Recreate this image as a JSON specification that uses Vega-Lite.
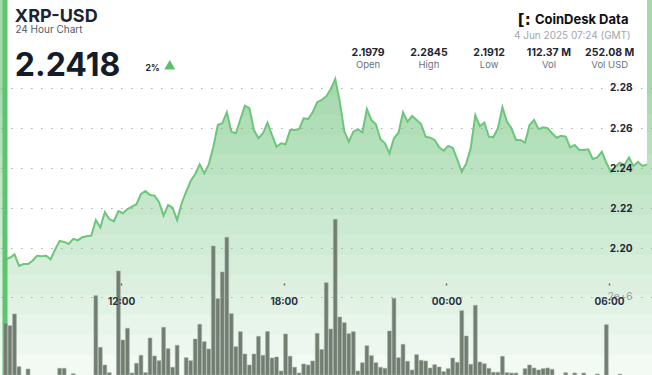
{
  "$schema": "https://vega.github.io/schema/vega-lite/v6.json",
  "width": 652,
  "height": 375,
  "autosize": {"type": "none"},
  "padding": 0,
  "background": "white",
  "config": {"view": {"stroke": null}, "font": "Inter"},
  "datasets": {
    "one": [{}],
    "price": [
      {"t": "2025-06-03T07:44:00Z", "p": 2.1945}, {"t": "2025-06-03T07:54:00Z", "p": 2.1953},
      {"t": "2025-06-03T08:04:00Z", "p": 2.1970}, {"t": "2025-06-03T08:14:00Z", "p": 2.1912},
      {"t": "2025-06-03T08:24:00Z", "p": 2.1922}, {"t": "2025-06-03T08:34:00Z", "p": 2.1922},
      {"t": "2025-06-03T08:44:00Z", "p": 2.1938}, {"t": "2025-06-03T08:54:00Z", "p": 2.1963},
      {"t": "2025-06-03T09:04:00Z", "p": 2.1960}, {"t": "2025-06-03T09:14:00Z", "p": 2.1963},
      {"t": "2025-06-03T09:24:00Z", "p": 2.1945}, {"t": "2025-06-03T09:34:00Z", "p": 2.1995},
      {"t": "2025-06-03T09:44:00Z", "p": 2.2037}, {"t": "2025-06-03T09:54:00Z", "p": 2.2032},
      {"t": "2025-06-03T10:04:00Z", "p": 2.2022}, {"t": "2025-06-03T10:14:00Z", "p": 2.2047},
      {"t": "2025-06-03T10:24:00Z", "p": 2.2040}, {"t": "2025-06-03T10:34:00Z", "p": 2.2055},
      {"t": "2025-06-03T10:44:00Z", "p": 2.2060}, {"t": "2025-06-03T10:54:00Z", "p": 2.2064},
      {"t": "2025-06-03T11:04:00Z", "p": 2.2141}, {"t": "2025-06-03T11:14:00Z", "p": 2.2104},
      {"t": "2025-06-03T11:24:00Z", "p": 2.2181}, {"t": "2025-06-03T11:34:00Z", "p": 2.2146},
      {"t": "2025-06-03T11:44:00Z", "p": 2.2135}, {"t": "2025-06-03T11:54:00Z", "p": 2.2186},
      {"t": "2025-06-03T12:04:00Z", "p": 2.2175}, {"t": "2025-06-03T12:14:00Z", "p": 2.2196},
      {"t": "2025-06-03T12:24:00Z", "p": 2.2208}, {"t": "2025-06-03T12:34:00Z", "p": 2.2220},
      {"t": "2025-06-03T12:44:00Z", "p": 2.2271}, {"t": "2025-06-03T12:54:00Z", "p": 2.2286},
      {"t": "2025-06-03T13:04:00Z", "p": 2.2266}, {"t": "2025-06-03T13:14:00Z", "p": 2.2263},
      {"t": "2025-06-03T13:24:00Z", "p": 2.2230}, {"t": "2025-06-03T13:34:00Z", "p": 2.2163},
      {"t": "2025-06-03T13:44:00Z", "p": 2.2216}, {"t": "2025-06-03T13:54:00Z", "p": 2.2203},
      {"t": "2025-06-03T14:04:00Z", "p": 2.2141}, {"t": "2025-06-03T14:14:00Z", "p": 2.2225},
      {"t": "2025-06-03T14:24:00Z", "p": 2.2283}, {"t": "2025-06-03T14:34:00Z", "p": 2.2336},
      {"t": "2025-06-03T14:44:00Z", "p": 2.2371}, {"t": "2025-06-03T14:54:00Z", "p": 2.2419},
      {"t": "2025-06-03T15:04:00Z", "p": 2.2374}, {"t": "2025-06-03T15:14:00Z", "p": 2.2419},
      {"t": "2025-06-03T15:24:00Z", "p": 2.2504}, {"t": "2025-06-03T15:34:00Z", "p": 2.2615},
      {"t": "2025-06-03T15:44:00Z", "p": 2.2624}, {"t": "2025-06-03T15:54:00Z", "p": 2.2679},
      {"t": "2025-06-03T16:04:00Z", "p": 2.2582}, {"t": "2025-06-03T16:14:00Z", "p": 2.2574},
      {"t": "2025-06-03T16:24:00Z", "p": 2.2644}, {"t": "2025-06-03T16:34:00Z", "p": 2.2712},
      {"t": "2025-06-03T16:44:00Z", "p": 2.2699}, {"t": "2025-06-03T16:54:00Z", "p": 2.2590},
      {"t": "2025-06-03T17:04:00Z", "p": 2.2549}, {"t": "2025-06-03T17:14:00Z", "p": 2.2574},
      {"t": "2025-06-03T17:24:00Z", "p": 2.2627}, {"t": "2025-06-03T17:34:00Z", "p": 2.2565},
      {"t": "2025-06-03T17:44:00Z", "p": 2.2507}, {"t": "2025-06-03T17:54:00Z", "p": 2.2524},
      {"t": "2025-06-03T18:04:00Z", "p": 2.2519}, {"t": "2025-06-03T18:14:00Z", "p": 2.2590},
      {"t": "2025-06-03T18:24:00Z", "p": 2.2590}, {"t": "2025-06-03T18:34:00Z", "p": 2.2595},
      {"t": "2025-06-03T18:44:00Z", "p": 2.2649}, {"t": "2025-06-03T18:54:00Z", "p": 2.2645},
      {"t": "2025-06-03T19:04:00Z", "p": 2.2679}, {"t": "2025-06-03T19:14:00Z", "p": 2.2729},
      {"t": "2025-06-03T19:24:00Z", "p": 2.2740}, {"t": "2025-06-03T19:34:00Z", "p": 2.2758},
      {"t": "2025-06-03T19:44:00Z", "p": 2.2795}, {"t": "2025-06-03T19:54:00Z", "p": 2.2845},
      {"t": "2025-06-03T20:04:00Z", "p": 2.2732}, {"t": "2025-06-03T20:14:00Z", "p": 2.2585},
      {"t": "2025-06-03T20:24:00Z", "p": 2.2532}, {"t": "2025-06-03T20:34:00Z", "p": 2.2582},
      {"t": "2025-06-03T20:44:00Z", "p": 2.2595}, {"t": "2025-06-03T20:54:00Z", "p": 2.2579},
      {"t": "2025-06-03T21:04:00Z", "p": 2.2695}, {"t": "2025-06-03T21:14:00Z", "p": 2.2640},
      {"t": "2025-06-03T21:24:00Z", "p": 2.2619}, {"t": "2025-06-03T21:34:00Z", "p": 2.2544},
      {"t": "2025-06-03T21:44:00Z", "p": 2.2524}, {"t": "2025-06-03T21:54:00Z", "p": 2.2474},
      {"t": "2025-06-03T22:04:00Z", "p": 2.2549}, {"t": "2025-06-03T22:14:00Z", "p": 2.2577},
      {"t": "2025-06-03T22:24:00Z", "p": 2.2679}, {"t": "2025-06-03T22:34:00Z", "p": 2.2632},
      {"t": "2025-06-03T22:44:00Z", "p": 2.2660}, {"t": "2025-06-03T22:54:00Z", "p": 2.2640},
      {"t": "2025-06-03T23:04:00Z", "p": 2.2620}, {"t": "2025-06-03T23:14:00Z", "p": 2.2557},
      {"t": "2025-06-03T23:24:00Z", "p": 2.2552}, {"t": "2025-06-03T23:34:00Z", "p": 2.2541},
      {"t": "2025-06-03T23:44:00Z", "p": 2.2504}, {"t": "2025-06-03T23:54:00Z", "p": 2.2487},
      {"t": "2025-06-04T00:04:00Z", "p": 2.2511}, {"t": "2025-06-04T00:14:00Z", "p": 2.2502},
      {"t": "2025-06-04T00:24:00Z", "p": 2.2444}, {"t": "2025-06-04T00:34:00Z", "p": 2.2382},
      {"t": "2025-06-04T00:44:00Z", "p": 2.2424}, {"t": "2025-06-04T00:54:00Z", "p": 2.2502},
      {"t": "2025-06-04T01:04:00Z", "p": 2.2665}, {"t": "2025-06-04T01:14:00Z", "p": 2.2610},
      {"t": "2025-06-04T01:24:00Z", "p": 2.2627}, {"t": "2025-06-04T01:34:00Z", "p": 2.2557},
      {"t": "2025-06-04T01:44:00Z", "p": 2.2554}, {"t": "2025-06-04T01:54:00Z", "p": 2.2599},
      {"t": "2025-06-04T02:04:00Z", "p": 2.2704}, {"t": "2025-06-04T02:14:00Z", "p": 2.2632},
      {"t": "2025-06-04T02:24:00Z", "p": 2.2599}, {"t": "2025-06-04T02:34:00Z", "p": 2.2541},
      {"t": "2025-06-04T02:44:00Z", "p": 2.2541}, {"t": "2025-06-04T02:54:00Z", "p": 2.2527},
      {"t": "2025-06-04T03:04:00Z", "p": 2.2615}, {"t": "2025-06-04T03:14:00Z", "p": 2.2640},
      {"t": "2025-06-04T03:24:00Z", "p": 2.2595}, {"t": "2025-06-04T03:34:00Z", "p": 2.2604},
      {"t": "2025-06-04T03:44:00Z", "p": 2.2599}, {"t": "2025-06-04T03:54:00Z", "p": 2.2574},
      {"t": "2025-06-04T04:04:00Z", "p": 2.2552}, {"t": "2025-06-04T04:14:00Z", "p": 2.2562},
      {"t": "2025-06-04T04:24:00Z", "p": 2.2557}, {"t": "2025-06-04T04:34:00Z", "p": 2.2504},
      {"t": "2025-06-04T04:44:00Z", "p": 2.2516}, {"t": "2025-06-04T04:54:00Z", "p": 2.2491},
      {"t": "2025-06-04T05:04:00Z", "p": 2.2491}, {"t": "2025-06-04T05:14:00Z", "p": 2.2494},
      {"t": "2025-06-04T05:24:00Z", "p": 2.2446}, {"t": "2025-06-04T05:34:00Z", "p": 2.2454},
      {"t": "2025-06-04T05:44:00Z", "p": 2.2482}, {"t": "2025-06-04T05:54:00Z", "p": 2.2427},
      {"t": "2025-06-04T06:04:00Z", "p": 2.2382}, {"t": "2025-06-04T06:14:00Z", "p": 2.2407},
      {"t": "2025-06-04T06:24:00Z", "p": 2.2427}, {"t": "2025-06-04T06:34:00Z", "p": 2.2416},
      {"t": "2025-06-04T06:44:00Z", "p": 2.2453}, {"t": "2025-06-04T06:54:00Z", "p": 2.2411},
      {"t": "2025-06-04T07:04:00Z", "p": 2.2432}, {"t": "2025-06-04T07:14:00Z", "p": 2.2411},
      {"t": "2025-06-04T07:24:00Z", "p": 2.2418}
    ],
    "volume": [
      {"t": "2025-06-03T07:44:00Z", "v": 1321000}, {"t": "2025-06-03T07:54:00Z", "v": 1259000},
      {"t": "2025-06-03T08:04:00Z", "v": 1558000}, {"t": "2025-06-03T08:14:00Z", "v": 212000},
      {"t": "2025-06-03T08:34:00Z", "v": 153000}, {"t": "2025-06-03T09:44:00Z", "v": 171000},
      {"t": "2025-06-03T09:54:00Z", "v": 171000}, {"t": "2025-06-03T10:14:00Z", "v": 33000},
      {"t": "2025-06-03T11:04:00Z", "v": 2026000}, {"t": "2025-06-03T11:14:00Z", "v": 708000},
      {"t": "2025-06-03T11:24:00Z", "v": 255000}, {"t": "2025-06-03T11:34:00Z", "v": 59000},
      {"t": "2025-06-03T11:54:00Z", "v": 2657000}, {"t": "2025-06-03T12:04:00Z", "v": 894000},
      {"t": "2025-06-03T12:14:00Z", "v": 1193000}, {"t": "2025-06-03T12:24:00Z", "v": 51000},
      {"t": "2025-06-03T12:34:00Z", "v": 299000}, {"t": "2025-06-03T12:44:00Z", "v": 503000},
      {"t": "2025-06-03T12:54:00Z", "v": 59000}, {"t": "2025-06-03T13:04:00Z", "v": 945000},
      {"t": "2025-06-03T13:14:00Z", "v": 485000}, {"t": "2025-06-03T13:24:00Z", "v": 365000},
      {"t": "2025-06-03T13:34:00Z", "v": 1218000}, {"t": "2025-06-03T13:44:00Z", "v": 672000},
      {"t": "2025-06-03T13:54:00Z", "v": 197000}, {"t": "2025-06-03T14:04:00Z", "v": 759000},
      {"t": "2025-06-03T14:24:00Z", "v": 442000}, {"t": "2025-06-03T14:34:00Z", "v": 365000},
      {"t": "2025-06-03T14:44:00Z", "v": 920000}, {"t": "2025-06-03T14:54:00Z", "v": 1295000},
      {"t": "2025-06-03T15:04:00Z", "v": 851000}, {"t": "2025-06-03T15:14:00Z", "v": 664000},
      {"t": "2025-06-03T15:24:00Z", "v": 3295000}, {"t": "2025-06-03T15:34:00Z", "v": 1949000},
      {"t": "2025-06-03T15:44:00Z", "v": 2631000}, {"t": "2025-06-03T15:54:00Z", "v": 3517000},
      {"t": "2025-06-03T16:04:00Z", "v": 1566000}, {"t": "2025-06-03T16:14:00Z", "v": 723000},
      {"t": "2025-06-03T16:24:00Z", "v": 1106000}, {"t": "2025-06-03T16:34:00Z", "v": 536000},
      {"t": "2025-06-03T16:44:00Z", "v": 255000}, {"t": "2025-06-03T16:54:00Z", "v": 536000},
      {"t": "2025-06-03T17:04:00Z", "v": 989000}, {"t": "2025-06-03T17:14:00Z", "v": 503000},
      {"t": "2025-06-03T17:24:00Z", "v": 1111000}, {"t": "2025-06-03T17:34:00Z", "v": 434000},
      {"t": "2025-06-03T17:44:00Z", "v": 460000}, {"t": "2025-06-03T17:54:00Z", "v": 102000},
      {"t": "2025-06-03T18:04:00Z", "v": 1047000}, {"t": "2025-06-03T18:14:00Z", "v": 480000},
      {"t": "2025-06-03T18:24:00Z", "v": 199000}, {"t": "2025-06-03T18:34:00Z", "v": 51000},
      {"t": "2025-06-03T18:44:00Z", "v": 281000}, {"t": "2025-06-03T18:54:00Z", "v": 255000},
      {"t": "2025-06-03T19:04:00Z", "v": 358000}, {"t": "2025-06-03T19:14:00Z", "v": 1065000},
      {"t": "2025-06-03T19:24:00Z", "v": 651000}, {"t": "2025-06-03T19:34:00Z", "v": 2358000},
      {"t": "2025-06-03T19:44:00Z", "v": 1175000}, {"t": "2025-06-03T19:54:00Z", "v": 3977000},
      {"t": "2025-06-03T20:04:00Z", "v": 1482000}, {"t": "2025-06-03T20:14:00Z", "v": 1336000},
      {"t": "2025-06-03T20:24:00Z", "v": 1055000}, {"t": "2025-06-03T20:34:00Z", "v": 1106000},
      {"t": "2025-06-03T20:44:00Z", "v": 102000}, {"t": "2025-06-03T20:54:00Z", "v": 314000},
      {"t": "2025-06-03T21:04:00Z", "v": 748000}, {"t": "2025-06-03T21:14:00Z", "v": 493000},
      {"t": "2025-06-03T21:24:00Z", "v": 314000}, {"t": "2025-06-03T21:34:00Z", "v": 197000},
      {"t": "2025-06-03T21:44:00Z", "v": 171000}, {"t": "2025-06-03T21:54:00Z", "v": 1124000},
      {"t": "2025-06-03T22:04:00Z", "v": 1959000}, {"t": "2025-06-03T22:14:00Z", "v": 442000},
      {"t": "2025-06-03T22:24:00Z", "v": 784000}, {"t": "2025-06-03T22:34:00Z", "v": 350000},
      {"t": "2025-06-03T22:44:00Z", "v": 128000}, {"t": "2025-06-03T22:54:00Z", "v": 519000},
      {"t": "2025-06-03T23:04:00Z", "v": 376000}, {"t": "2025-06-03T23:14:00Z", "v": 358000},
      {"t": "2025-06-03T23:24:00Z", "v": 179000}, {"t": "2025-06-03T23:34:00Z", "v": 263000},
      {"t": "2025-06-03T23:44:00Z", "v": 204000}, {"t": "2025-06-03T23:54:00Z", "v": 84000},
      {"t": "2025-06-04T00:04:00Z", "v": 161000}, {"t": "2025-06-04T00:14:00Z", "v": 434000},
      {"t": "2025-06-04T00:24:00Z", "v": 324000}, {"t": "2025-06-04T00:34:00Z", "v": 1642000},
      {"t": "2025-06-04T00:44:00Z", "v": 996000}, {"t": "2025-06-04T00:54:00Z", "v": 273000},
      {"t": "2025-06-04T01:04:00Z", "v": 1780000}, {"t": "2025-06-04T01:14:00Z", "v": 332000},
      {"t": "2025-06-04T01:24:00Z", "v": 289000}, {"t": "2025-06-04T01:34:00Z", "v": 171000},
      {"t": "2025-06-04T01:44:00Z", "v": 69000}, {"t": "2025-06-04T01:54:00Z", "v": 69000},
      {"t": "2025-06-04T02:04:00Z", "v": 478000}, {"t": "2025-06-04T02:14:00Z", "v": 59000},
      {"t": "2025-06-04T02:24:00Z", "v": 51000}, {"t": "2025-06-04T02:34:00Z", "v": 51000},
      {"t": "2025-06-04T02:54:00Z", "v": 161000}, {"t": "2025-06-04T03:04:00Z", "v": 255000},
      {"t": "2025-06-04T03:14:00Z", "v": 179000}, {"t": "2025-06-04T03:24:00Z", "v": 128000},
      {"t": "2025-06-04T03:34:00Z", "v": 161000}, {"t": "2025-06-04T03:44:00Z", "v": 179000},
      {"t": "2025-06-04T03:54:00Z", "v": 146000}, {"t": "2025-06-04T04:24:00Z", "v": 59000},
      {"t": "2025-06-04T04:44:00Z", "v": 51000}, {"t": "2025-06-04T05:04:00Z", "v": 51000},
      {"t": "2025-06-04T05:34:00Z", "v": 26000}, {"t": "2025-06-04T05:54:00Z", "v": 1285000},
      {"t": "2025-06-04T06:24:00Z", "v": 20000}
    ]
  },
  "layer": [
    {
      "layer": [
        {"data": {"name": "one"}, "mark": {"type": "rect", "color": "#a5d9ad"}, "encoding": {"y": {"datum": 2.3239, "type": "quantitative"}, "y2": {"datum": 2.2765}}},
        {"data": {"name": "one"}, "mark": {"type": "rect", "color": "#aadbb2"}, "encoding": {"y": {"datum": 2.2765, "type": "quantitative"}, "y2": {"datum": 2.2665}}},
        {"data": {"name": "one"}, "mark": {"type": "rect", "color": "#b0deb7"}, "encoding": {"y": {"datum": 2.2665, "type": "quantitative"}, "y2": {"datum": 2.2565}}},
        {"data": {"name": "one"}, "mark": {"type": "rect", "color": "#b5e0bc"}, "encoding": {"y": {"datum": 2.2565, "type": "quantitative"}, "y2": {"datum": 2.2466}}},
        {"data": {"name": "one"}, "mark": {"type": "rect", "color": "#bbe2c1"}, "encoding": {"y": {"datum": 2.2466, "type": "quantitative"}, "y2": {"datum": 2.2366}}},
        {"data": {"name": "one"}, "mark": {"type": "rect", "color": "#c0e5c7"}, "encoding": {"y": {"datum": 2.2366, "type": "quantitative"}, "y2": {"datum": 2.2266}}},
        {"data": {"name": "one"}, "mark": {"type": "rect", "color": "#c6e7cc"}, "encoding": {"y": {"datum": 2.2266, "type": "quantitative"}, "y2": {"datum": 2.2166}}},
        {"data": {"name": "one"}, "mark": {"type": "rect", "color": "#cce9d1"}, "encoding": {"y": {"datum": 2.2166, "type": "quantitative"}, "y2": {"datum": 2.2067}}},
        {"data": {"name": "one"}, "mark": {"type": "rect", "color": "#d1ecd6"}, "encoding": {"y": {"datum": 2.2067, "type": "quantitative"}, "y2": {"datum": 2.1967}}},
        {"data": {"name": "one"}, "mark": {"type": "rect", "color": "#d7eedb"}, "encoding": {"y": {"datum": 2.1967, "type": "quantitative"}, "y2": {"datum": 2.1867}}},
        {"data": {"name": "one"}, "mark": {"type": "rect", "color": "#ddf0e0"}, "encoding": {"y": {"datum": 2.1867, "type": "quantitative"}, "y2": {"datum": 2.1767}}},
        {"data": {"name": "one"}, "mark": {"type": "rect", "color": "#e2f3e5"}, "encoding": {"y": {"datum": 2.1767, "type": "quantitative"}, "y2": {"datum": 2.1667}}},
        {"data": {"name": "one"}, "mark": {"type": "rect", "color": "#e8f5ea"}, "encoding": {"y": {"datum": 2.1667, "type": "quantitative"}, "y2": {"datum": 2.1568}}},
        {"data": {"name": "one"}, "mark": {"type": "rect", "color": "#eef7ef"}, "encoding": {"y": {"datum": 2.1568, "type": "quantitative"}, "y2": {"datum": 2.1468}}},
        {"data": {"name": "one"}, "mark": {"type": "rect", "color": "#f3faf4"}, "encoding": {"y": {"datum": 2.1468, "type": "quantitative"}, "y2": {"datum": 2.1368}}},
        {
          "data": {"name": "price"},
          "mark": {"type": "area", "color": "white"},
          "encoding": {
            "x": {"field": "t", "type": "temporal",
              "scale": {"type": "utc", "domain": [{"year": 2025, "month": 6, "date": 3, "hours": 7, "minutes": 43, "utc": true}, {"year": 2025, "month": 6, "date": 4, "hours": 7, "minutes": 24, "utc": true}]},
              "axis": {"orient": "bottom", "offset": -92, "title": null, "format": "%H:%M", "domain": false, "grid": false,
                "values": [{"year": 2025, "month": 6, "date": 3, "hours": 12, "utc": true}, {"year": 2025, "month": 6, "date": 3, "hours": 18, "utc": true}, {"year": 2025, "month": 6, "date": 4, "hours": 0, "utc": true}, {"year": 2025, "month": 6, "date": 4, "hours": 6, "utc": true}],
                "tickSize": 2, "tickColor": "#666666", "tickWidth": 1.5, "labelPadding": 11, "labelFont": "Inter", "labelFontWeight": "bold", "labelFontSize": 10, "labelColor": "#2b3442", "zindex": 2}},
            "y": {"field": "p", "type": "quantitative",
              "scale": {"domain": [2.1368, 2.3239], "zero": false, "nice": false},
              "axis": {"orient": "right", "offset": -20, "title": null, "values": [2.2, 2.22, 2.24, 2.26, 2.28], "format": ".2f", "domain": false, "ticks": false,
                "grid": true, "gridDash": [1.2, 8.8], "gridColor": "#9a9a9a", "gridWidth": 1.2,
                "labelAlign": "right", "labelBaseline": "middle", "labelPadding": 0, "labelFont": "Inter", "labelFontWeight": "bold", "labelFontSize": 10, "labelColor": "#1e2633", "zindex": 1}},
            "y2": {"datum": 2.3239}
          }
        },
        {
          "data": {"name": "price"},
          "mark": {"type": "line", "stroke": "#6ec57c", "strokeWidth": 2},
          "encoding": {
            "x": {"field": "t", "type": "temporal"},
            "y": {"field": "p", "type": "quantitative"}
          }
        },
        {
          "data": {"name": "one"},
          "mark": {"type": "rule", "stroke": "#5ec46e", "strokeWidth": 5},
          "encoding": {"x": {"datum": {"year": 2025, "month": 6, "date": 3, "hours": 7, "minutes": 43, "utc": true}, "type": "temporal"}}
        },
        {
          "data": {"name": "one"},
          "mark": {"type": "text", "text": "XRP-USD", "align": "left", "font": "Inter", "fontWeight": "bold", "fontSize": 18, "color": "#1c2434"},
          "encoding": {"x": {"datum": {"year": 2025, "month": 6, "date": 3, "hours": 8, "minutes": 4, "seconds": 50, "utc": true}, "type": "temporal"}, "y": {"datum": 2.3154, "type": "quantitative"}}
        },
        {
          "data": {"name": "one"},
          "mark": {"type": "text", "text": "24 Hour Chart", "align": "left", "font": "Inter", "fontSize": 10, "color": "#555b66"},
          "encoding": {"x": {"datum": {"year": 2025, "month": 6, "date": 3, "hours": 8, "minutes": 6, "seconds": 0, "utc": true}, "type": "temporal"}, "y": {"datum": 2.3091, "type": "quantitative"}}
        },
        {
          "data": {"name": "one"},
          "mark": {"type": "text", "text": "2.2418", "align": "left", "font": "Inter", "fontWeight": "bold", "fontSize": 32, "color": "#141c2a"},
          "encoding": {"x": {"datum": {"year": 2025, "month": 6, "date": 3, "hours": 8, "minutes": 4, "seconds": 50, "utc": true}, "type": "temporal"}, "y": {"datum": 2.2910, "type": "quantitative"}}
        },
        {
          "data": {"name": "one"},
          "mark": {"type": "text", "text": "2%", "align": "left", "font": "Inter", "fontWeight": "bold", "fontSize": 8.5, "color": "#1c2434"},
          "encoding": {"x": {"datum": {"year": 2025, "month": 6, "date": 3, "hours": 12, "minutes": 54, "seconds": 12, "utc": true}, "type": "temporal"}, "y": {"datum": 2.2901, "type": "quantitative"}}
        },
        {
          "data": {"name": "one"},
          "mark": {"type": "point", "shape": "triangle-up", "filled": true, "size": 121, "color": "#5cbf6d", "opacity": 1},
          "encoding": {"x": {"datum": {"year": 2025, "month": 6, "date": 3, "hours": 13, "minutes": 47, "seconds": 42, "utc": true}, "type": "temporal"}, "y": {"datum": 2.2916, "type": "quantitative"}}
        },
        {
          "data": {"name": "one"},
          "mark": {"type": "text", "text": "CoinDesk Data", "align": "right", "font": "Inter", "fontWeight": "bold", "fontSize": 13, "color": "#111111"},
          "encoding": {"x": {"datum": {"year": 2025, "month": 6, "date": 4, "hours": 6, "minutes": 42, "seconds": 54, "utc": true}, "type": "temporal"}, "y": {"datum": 2.3139, "type": "quantitative"}}
        },
        {
          "data": {"name": "one"},
          "mark": {"type": "text", "text": "[:", "align": "left", "font": "DejaVu Sans", "fontWeight": "bold", "fontSize": 15, "color": "#111111"},
          "encoding": {"x": {"datum": {"year": 2025, "month": 6, "date": 4, "hours": 2, "minutes": 38, "utc": true}, "type": "temporal"}, "y": {"datum": 2.3139, "type": "quantitative"}}
        },
        {
          "data": {"name": "one"},
          "mark": {"type": "text", "text": "4 Jun 2025 07:24 (GMT)", "align": "right", "font": "Inter", "fontSize": 10, "color": "#a2a6ac"},
          "encoding": {"x": {"datum": {"year": 2025, "month": 6, "date": 4, "hours": 6, "minutes": 48, "seconds": 0, "utc": true}, "type": "temporal"}, "y": {"datum": 2.3057, "type": "quantitative"}}
        },
        {
          "data": {"name": "one"},
          "mark": {"type": "text", "text": "2.1979", "align": "center", "font": "Inter", "fontWeight": "bold", "fontSize": 10.5, "color": "#1e2533"},
          "encoding": {"x": {"datum": {"year": 2025, "month": 6, "date": 3, "hours": 21, "minutes": 6, "seconds": 42, "utc": true}, "type": "temporal"}, "y": {"datum": 2.2977, "type": "quantitative"}}
        },
        {
          "data": {"name": "one"},
          "mark": {"type": "text", "text": "Open", "align": "center", "font": "Inter", "fontSize": 9.5, "color": "#6b7280"},
          "encoding": {"x": {"datum": {"year": 2025, "month": 6, "date": 3, "hours": 21, "minutes": 6, "seconds": 42, "utc": true}, "type": "temporal"}, "y": {"datum": 2.2913, "type": "quantitative"}}
        },
        {
          "data": {"name": "one"},
          "mark": {"type": "text", "text": "2.2845", "align": "center", "font": "Inter", "fontWeight": "bold", "fontSize": 10.5, "color": "#1e2533"},
          "encoding": {"x": {"datum": {"year": 2025, "month": 6, "date": 3, "hours": 23, "minutes": 21, "seconds": 18, "utc": true}, "type": "temporal"}, "y": {"datum": 2.2977, "type": "quantitative"}}
        },
        {
          "data": {"name": "one"},
          "mark": {"type": "text", "text": "High", "align": "center", "font": "Inter", "fontSize": 9.5, "color": "#6b7280"},
          "encoding": {"x": {"datum": {"year": 2025, "month": 6, "date": 3, "hours": 23, "minutes": 21, "seconds": 18, "utc": true}, "type": "temporal"}, "y": {"datum": 2.2913, "type": "quantitative"}}
        },
        {
          "data": {"name": "one"},
          "mark": {"type": "text", "text": "2.1912", "align": "center", "font": "Inter", "fontWeight": "bold", "fontSize": 10.5, "color": "#1e2533"},
          "encoding": {"x": {"datum": {"year": 2025, "month": 6, "date": 4, "hours": 1, "minutes": 34, "seconds": 30, "utc": true}, "type": "temporal"}, "y": {"datum": 2.2977, "type": "quantitative"}}
        },
        {
          "data": {"name": "one"},
          "mark": {"type": "text", "text": "Low", "align": "center", "font": "Inter", "fontSize": 9.5, "color": "#6b7280"},
          "encoding": {"x": {"datum": {"year": 2025, "month": 6, "date": 4, "hours": 1, "minutes": 34, "seconds": 30, "utc": true}, "type": "temporal"}, "y": {"datum": 2.2913, "type": "quantitative"}}
        },
        {
          "data": {"name": "one"},
          "mark": {"type": "text", "text": "112.37 M", "align": "center", "font": "Inter", "fontWeight": "bold", "fontSize": 10.5, "color": "#1e2533"},
          "encoding": {"x": {"datum": {"year": 2025, "month": 6, "date": 4, "hours": 3, "minutes": 46, "seconds": 54, "utc": true}, "type": "temporal"}, "y": {"datum": 2.2977, "type": "quantitative"}}
        },
        {
          "data": {"name": "one"},
          "mark": {"type": "text", "text": "Vol", "align": "center", "font": "Inter", "fontSize": 9.5, "color": "#6b7280"},
          "encoding": {"x": {"datum": {"year": 2025, "month": 6, "date": 4, "hours": 3, "minutes": 46, "seconds": 54, "utc": true}, "type": "temporal"}, "y": {"datum": 2.2913, "type": "quantitative"}}
        },
        {
          "data": {"name": "one"},
          "mark": {"type": "text", "text": "252.08 M", "align": "center", "font": "Inter", "fontWeight": "bold", "fontSize": 10.5, "color": "#1e2533"},
          "encoding": {"x": {"datum": {"year": 2025, "month": 6, "date": 4, "hours": 6, "minutes": 1, "seconds": 30, "utc": true}, "type": "temporal"}, "y": {"datum": 2.2977, "type": "quantitative"}}
        },
        {
          "data": {"name": "one"},
          "mark": {"type": "text", "text": "Vol USD", "align": "center", "font": "Inter", "fontSize": 9.5, "color": "#6b7280"},
          "encoding": {"x": {"datum": {"year": 2025, "month": 6, "date": 4, "hours": 6, "minutes": 1, "seconds": 30, "utc": true}, "type": "temporal"}, "y": {"datum": 2.2913, "type": "quantitative"}}
        }
      ]
    },
    {
      "data": {"name": "volume"},
      "mark": {"type": "bar", "width": 3.8, "fill": "#717d71", "stroke": "#a3aca3", "strokeWidth": 0.6},
      "encoding": {
        "x": {"field": "t", "type": "temporal"},
        "y": {"field": "v", "type": "quantitative",
          "scale": {"domain": [0, 9578000], "zero": true, "nice": false},
          "axis": {"orient": "right", "offset": -20, "title": null, "values": [2000000], "format": ",", "domain": false, "ticks": false,
            "grid": true, "gridDash": [1.2, 8.8], "gridColor": "#9a9a9a", "gridWidth": 1.2,
            "labelAlign": "right", "labelBaseline": "middle", "labelPadding": 0, "labelFont": "Inter", "labelFontSize": 10, "labelColor": "#999999", "zindex": 1}}
      }
    }
  ],
  "resolve": {"scale": {"y": "independent"}}
}
